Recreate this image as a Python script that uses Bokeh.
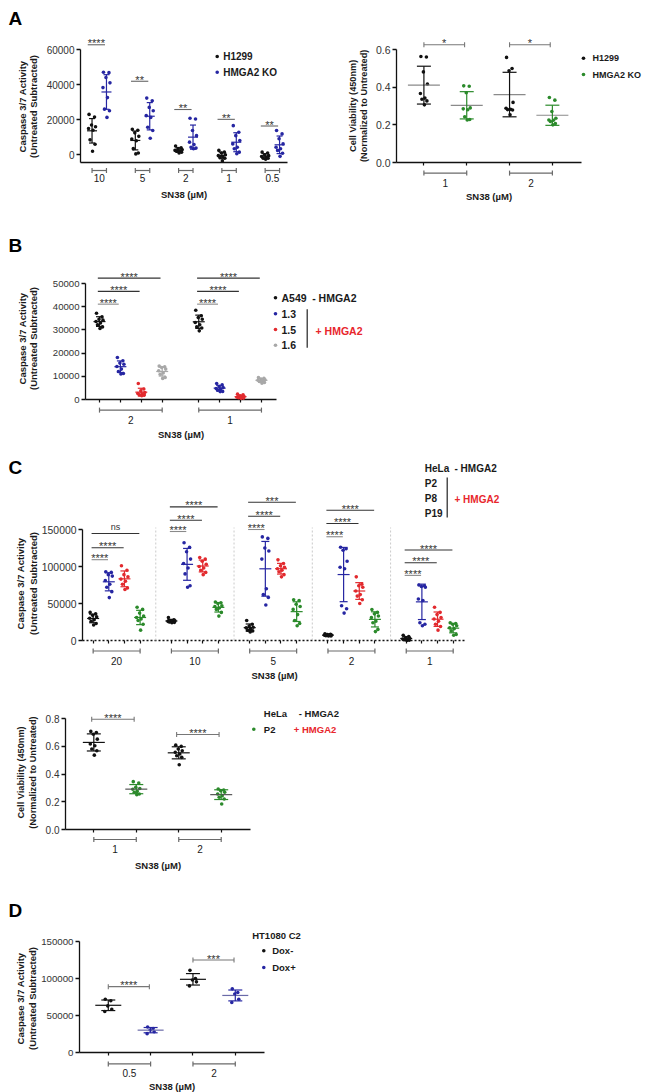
import math
import numpy as np
from bokeh.plotting import figure
from bokeh.models import Range1d, LinearAxis, FixedTicker, PrintfTickFormatter, Spacer
from bokeh.layouts import column, row
from bokeh.embed import file_html
from bokeh.resources import INLINE
from bokeh.core.properties import value

FONT = "Liberation Sans"
BLACK = "#111111"
BLUE = "#2626a2"
RED = "#e22a2e"
LGRAY = "#a8a8a8"
GREEN = "#2b8a2b"
TXT = "#1a1a1a"
LEG_RED = "#e8262c"

# ---------------- DATA ----------------
# Panel A (left) - Caspase 3/7, H1299 vs HMGA2 KO
a1_doses = ["10", "5", "2", "1", "0.5"]
a1_h1299 = [
    [23000, 21500, 17000, 16000, 15000, 14000, 8500, 6000, 2000],
    [14500, 14000, 12500, 10500, 9000, 8000, 3500, 1000, 500],
    [5000, 4000, 3500, 3000, 2500, 2000, 2000, 1500, 1000],
    [2500, 1500, 1000, 0, -500, -1000, -1500, -2000, -3500],
    [1500, 1000, 0, -500, -1000, -1500, -2000, -2000, -2500],
]
a1_ko = [
    [47000, 46800, 44000, 41000, 38300, 32600, 26000, 25100, 21300],
    [32300, 30800, 27000, 25100, 22300, 21300, 15700, 13800, 9400],
    [20800, 20400, 13800, 10900, 7200, 5900, 4300, 3800, 3400],
    [16600, 12800, 10900, 8100, 6200, 4300, 3400, 1500, 600],
    [13800, 11900, 9100, 6200, 4300, 3400, 2500, 900, -900],
]
a1_sig_y = [62700, 41900, 25800, 20200, 16400]
a1_sig = ["****", "**", "**", "**", "**"]
a1_yticks = [0, 20000, 40000, 60000]

# Panel A (right) - cell viability
a2_doses = ["1", "2"]
a2_h1299 = [
    [0.563, 0.560, 0.481, 0.416, 0.366, 0.342, 0.336, 0.327, 0.306],
    [0.558, 0.499, 0.487, 0.319, 0.288, 0.283, 0.281, 0.279, 0.253],
]
a2_ko = [
    [0.407, 0.405, 0.370, 0.290, 0.285, 0.280, 0.243, 0.228, 0.226],
    [0.345, 0.331, 0.271, 0.235, 0.226, 0.224, 0.218, 0.207, 0.200],
]
a2_sig_y = [0.625, 0.625]
a2_sig = ["*", "*"]
a2_yticks = [0, 0.2, 0.4, 0.6]

# Panel B - A549 clones
b_doses = ["2", "1"]
b_a549 = [
    [37200, 35600, 34600, 34200, 33600, 33000, 32200, 31300, 30600],
    [38500, 36100, 35300, 34600, 33200, 32200, 31300, 30800, 29600],
]
b_13 = [
    [18100, 16700, 15700, 15200, 14200, 13100, 12100, 11200, 11000],
    [6900, 6300, 5600, 5200, 4700, 4500, 4000, 3500, 3400],
]
b_15 = [
    [6900, 4500, 3700, 3000, 2600, 2300, 2000, 1900, 1600],
    [2300, 2000, 1600, 1300, 1000, 900, 800, 600, 500],
]
b_16 = [
    [14400, 14100, 13800, 13100, 12400, 11400, 10900, 9500, 9100],
    [9500, 9100, 8800, 8500, 8300, 8100, 7800, 7300, 7000],
]
b_sig_y = [[41100, 46600, 52300], [41100, 46600, 52300]]
b_sig = [["****", "****", "****"], ["****", "****", "****"]]
b_yticks = [0, 10000, 20000, 30000, 40000, 50000]

# Panel C (top) - HeLa clones
c_doses = ["20", "10", "5", "2", "1"]
c_hela = [
    [38000, 36000, 34000, 32000, 30000, 28000, 26000, 23000, 21000],
    [31000, 28000, 27000, 26500, 26000, 25500, 25000, 24500, 24000],
    [27000, 22000, 19500, 18000, 17000, 15000, 14000, 13000, 11500],
    [9000, 8500, 8000, 7500, 7000, 7000, 6500, 6000, 6000],
    [7000, 5500, 4000, 3000, 2000, 1500, 1000, 500, 0],
]
c_p2 = [
    [93000, 92000, 89000, 87000, 81000, 76000, 72000, 66000, 58000],
    [132000, 126000, 120000, 110000, 104000, 98000, 90000, 74000, 72000],
    [140000, 138000, 125000, 121000, 110000, 70000, 62000, 58000, 48000],
    [126000, 124000, 122000, 107000, 99000, 97000, 47000, 43000, 37000],
    [75000, 74000, 73000, 72000, 56000, 54000, 24000, 22000, 20000],
]
c_p8 = [
    [101000, 95000, 89000, 86000, 83000, 80000, 76000, 71000, 69000],
    [112000, 110000, 107000, 103000, 100000, 98000, 95000, 92000, 89000],
    [109000, 104000, 101000, 99000, 97000, 95000, 93000, 89000, 86000],
    [86000, 76000, 74000, 72000, 67000, 62000, 60000, 55000, 50000],
    [45000, 38000, 35000, 31000, 29000, 26000, 22000, 19000, 14000],
]
c_p19 = [
    [45000, 42000, 37000, 33000, 31000, 29000, 27000, 22000, 14000],
    [52000, 51000, 50000, 47000, 46000, 44000, 42000, 38000, 33000],
    [55000, 54000, 49000, 46000, 42000, 35000, 27000, 23000, 20000],
    [42000, 38000, 36000, 33000, 31000, 26000, 24000, 15000, 12000],
    [24000, 23000, 22000, 20000, 17000, 16000, 13000, 8000, 7000],
]
c_sig_y = [
    [109200, 125300, 144600],
    [147300, 162600, 180600],
    [150000, 168000, 186900],
    [140200, 158100, 176100],
    [88000, 105100, 122200],
]
c_sig = [
    ["****", "****", "ns"],
    ["****", "****", "****"],
    ["****", "****", "***"],
    ["****", "****", "****"],
    ["****", "****", "****"],
]
c_yticks = [0, 50000, 100000, 150000]

# Panel C (bottom) - viability HeLa vs P2
c2_doses = ["1", "2"]
c2_hela = [
    [0.707, 0.699, 0.687, 0.651, 0.616, 0.604, 0.580, 0.568, 0.536],
    [0.608, 0.599, 0.580, 0.568, 0.556, 0.544, 0.532, 0.520, 0.467],
]
c2_p2 = [
    [0.345, 0.335, 0.304, 0.295, 0.290, 0.275, 0.268, 0.256, 0.250],
    [0.292, 0.285, 0.280, 0.268, 0.256, 0.244, 0.232, 0.220, 0.184],
]
c2_sig_y = [0.795, 0.685]
c2_sig = ["****", "****"]
c2_yticks = [0, 0.2, 0.4, 0.6, 0.8]

# Panel D - HT1080 C2 Dox-/Dox+
d_doses = ["0.5", "2"]
d_dox_minus = [
    [72000, 70000, 63000, 58500, 55500],
    [111000, 100000, 98000, 95500, 90000],
]
d_dox_plus = [
    [34500, 32500, 30500, 28000, 25500],
    [86000, 81000, 79000, 72000, 67500],
]
d_sig_y = [89000, 124900]
d_sig = ["****", "***"]
d_yticks = [0, 50000, 100000, 150000]

CASP = ["Caspase 3/7 Activity", "(Untreated Subtracted)"]
VIAB = ["Cell Viability (450nm)", "(Normalized to Untreated)"]
XT = "SN38 (\u00b5M)"

# jitter pattern (pixels) used to spread points within a column
JIT = [-3.0, 2.5, -0.5, 3.5, -3.5, 1.0, -2.0, 3.0, 0.5]
DOT = 3.6


class Panel:
    def __init__(self, fw, fh, L, R, T, B, xr, yr, yticks, yfmt, ytitle, tpos, series_x, centers, labels,
                 ytick_fs="10px", ytitle_fs="9.5px", lab_sd=12, title_sd=2, xdash="solid"):
        self.L, self.R, self.T, self.B = L, R, T, B
        self.W, self.H = L + fw + R, T + fh + B
        self.xs, self.xe = xr
        self.ys, self.ye = yr
        self.sx = fw / (self.xe - self.xs)
        self.sy = fh / (self.ye - self.ys)
        p = figure(frame_width=fw, frame_height=fh, x_range=Range1d(*xr), y_range=Range1d(*yr),
                   x_axis_type=None, y_axis_type=None, output_backend="svg", toolbar_location=None,
                   min_border_left=L, min_border_right=R, min_border_top=T, min_border_bottom=B,
                   outline_line_color=None, background_fill_color="white", border_fill_color="white")
        self.p = p
        ya = LinearAxis(ticker=FixedTicker(ticks=yticks), formatter=PrintfTickFormatter(format=yfmt),
                        major_label_text_font=FONT, major_label_text_font_size=ytick_fs,
                        major_label_text_color="#333333", major_label_standoff=2,
                        major_tick_out=4, major_tick_in=0, minor_tick_line_color=None,
                        axis_line_color=BLACK, axis_line_width=1.3,
                        major_tick_line_color=BLACK, major_tick_line_width=1.3)
        p.add_layout(ya, "left")
        xa = LinearAxis(ticker=FixedTicker(ticks=series_x),
                        major_label_overrides={float(s): "" for s in series_x},
                        major_label_text_font_size="0px", major_label_standoff=0,
                        major_tick_out=3, major_tick_in=0, minor_tick_line_color=None,
                        axis_line_color=BLACK, axis_line_width=1.3, axis_line_dash=xdash,
                        major_tick_line_color=BLACK, major_tick_line_width=1.2)
        p.add_layout(xa, "below")
        xa2 = LinearAxis(ticker=FixedTicker(ticks=centers),
                         major_label_overrides={float(c): l for c, l in zip(centers, labels)},
                         axis_line_color=None, major_tick_line_color=None, minor_tick_line_color=None,
                         major_tick_out=0, major_tick_in=0, major_label_standoff=lab_sd,
                         major_label_text_font=FONT, major_label_text_font_size="10px",
                         major_label_text_color=TXT,
                         axis_label=XT, axis_label_standoff=title_sd, axis_label_text_font=FONT,
                         axis_label_text_font_style="bold", axis_label_text_font_size="9.5px",
                         axis_label_text_color=TXT)
        p.add_layout(xa2, "below")
        # y-axis title (two lines, rotated)
        (tx1, tx2), ty = tpos
        for line, tx in zip(ytitle, (tx1, tx2)):
            p.text([self.X(tx)], [self.Y(ty)], text=[line], angle=math.pi / 2,
                   text_font=value(FONT), text_font_size=ytitle_fs, text_font_style="bold",
                   text_align="center", text_baseline="middle", text_color=TXT, level="overlay")

    def X(self, cx):
        return self.xs + (cx - self.L) / self.sx

    def Y(self, cy):
        return self.ys + (self.H - self.B - cy) / self.sy


def draw_series(P, xc, vals, color, mean_hw, cap_hw, mean_color=None, lw=1.2):
    vals = np.asarray(vals, dtype=float)
    order = np.argsort(-vals, kind="stable")
    xs = np.empty(len(vals))
    for rank, idx in enumerate(order):
        xs[idx] = xc + JIT[rank % len(JIT)] / P.sx
    P.p.scatter(xs, vals, size=DOT, fill_color=color, line_color=None, level="overlay")
    m = vals.mean()
    s = vals.std(ddof=1)
    mc = mean_color or color
    P.p.segment([xc - mean_hw / P.sx], [m], [xc + mean_hw / P.sx], [m],
                line_color=mc, line_width=lw, level="overlay")
    c = cap_hw / P.sx
    P.p.segment([xc, xc - c, xc - c], [m - s, m + s, m - s], [xc, xc + c, xc + c], [m + s, m + s, m - s],
                line_color=color, line_width=lw, level="overlay")


def sig_bar(P, xa, xb, y, txt, color, caps=False, fs="11px"):
    P.p.segment([xa], [y], [xb], [y], line_color=color, line_width=1.1, level="overlay")
    if caps:
        d = 2.5 / P.sy
        P.p.segment([xa, xb], [y - d, y - d], [xa, xb], [y + d, y + d],
                    line_color=color, line_width=1.1, level="overlay")
    if txt == "ns":
        ty = y + 6.0 / P.sy
        f = "9px"
    else:
        ty = y + 1.5 / P.sy
        f = fs
    P.p.text([(xa + xb) / 2], [ty], text=[txt], text_font=value(FONT), text_font_size=f,
             text_align="center", text_baseline="middle", text_color="#333333", level="overlay")


def bracket(P, xa, xb, off_px, color="#6a6a6a"):
    y = P.ys - off_px / P.sy
    d = 2.5 / P.sy
    P.p.segment([xa, xa, xb], [y, y - d, y - d], [xb, xa, xb], [y, y + d, y + d],
                line_color=color, line_width=1.2, level="overlay")


def ptext(P, cx, cy, txt, fs, color=TXT, bold=True, align="left", baseline="middle"):
    P.p.text([P.X(cx)], [P.Y(cy)], text=[txt], text_font=value(FONT), text_font_size=fs,
             text_font_style="bold" if bold else "normal", text_align=align,
             text_baseline=baseline, text_color=color, level="overlay")


def dot(P, cx, cy, color):
    P.p.scatter([P.X(cx)], [P.Y(cy)], size=DOT, fill_color=color, line_color=None, level="overlay")


def vbar(P, cx, cy0, cy1):
    P.p.segment([P.X(cx)], [P.Y(cy0)], [P.X(cx)], [P.Y(cy1)], line_color="#222222",
                line_width=1.2, level="overlay")


def letter(P, cy, txt):
    ptext(P, 0, cy, txt, "19px", color="#000000", baseline="alphabetic")


# ---------------- Panel A left ----------------
A1 = Panel(207, 113, 72, 33, 41, 43, (-0.8, 13.55), (-4400, 60000), a1_yticks, "%d", CASP,
           ((13.7, 25.3), 98), series_x=[], centers=[g * 3 + 0.5 for g in range(5)], labels=a1_doses,
           lab_sd=11, title_sd=4)
for g in range(5):
    draw_series(A1, g * 3, a1_h1299[g], BLACK, 5, 3)
    draw_series(A1, g * 3 + 1, a1_ko[g], BLUE, 5, 3)
    sig_bar(A1, g * 3 - 0.3, g * 3 + 0.9, a1_sig_y[g], a1_sig[g], "#666666")
    bracket(A1, g * 3, g * 3 + 1, 8)
letter(A1, 10, "A")
dot(A1, 208.7, 48, BLACK)
ptext(A1, 214.7, 48, "H1299", "10px")
dot(A1, 208.7, 63.7, BLUE)
ptext(A1, 214.7, 63.7, "HMGA2 KO", "10px")

# ---------------- Panel A right ----------------
A2 = Panel(185, 113, 76, 61, 41, 43, (-0.64, 3.68), (0, 0.6), a2_yticks, "%.1f", VIAB,
           ((32.3, 43.3), 97.3), series_x=[0, 1, 2, 3], centers=[0.5, 2.5], labels=a2_doses,
           ytick_fs="10.5px", ytitle_fs="9.2px", lab_sd=13, title_sd=1)
for g in range(2):
    draw_series(A2, g * 2, a2_h1299[g], BLACK, 16, 7, mean_color="#8a8a8a")
    draw_series(A2, g * 2 + 1, a2_ko[g], GREEN, 16, 7, mean_color="#8a8a8a")
    sig_bar(A2, g * 2, g * 2 + 0.95, a2_sig_y[g], a2_sig[g], "#777777", caps=True)
    bracket(A2, g * 2, g * 2 + 1, 10.6)
dot(A2, 263, 49.7, BLACK)
ptext(A2, 272, 49.7, "H1299", "9px")
dot(A2, 263, 66, GREEN)
ptext(A2, 272, 66, "HMGA2 KO", "9px")

# ---------------- Panel B ----------------
b_series = [b_a549, b_13, b_15, b_16]
b_colors = [BLACK, BLUE, RED, LGRAY]
B_ = Panel(191, 116, 77, 92, 78, 41, (-0.67, 8.47), (0, 50000), b_yticks, "%d", CASP,
           ((13.7, 25.3), 133), series_x=[g * 4.75 + j for g in range(2) for j in range(4)],
           centers=[g * 4.75 + 1.5 for g in range(2)], labels=b_doses,
           ytick_fs="9.6px", lab_sd=13, title_sd=2)
for g in range(2):
    for j in range(4):
        draw_series(B_, g * 4.75 + j, b_series[j][g], b_colors[j], 6, 3.5)
    for k in range(3):
        sig_bar(B_, g * 4.75 - 0.08, g * 4.75 + k + 1 - 0.08, b_sig_y[g][k], b_sig[g][k],
                "#8a8a8a" if k == 0 else "#333333")
    bracket(B_, g * 4.75, g * 4.75 + 3, 10.6)
letter(B_, 40, "B")
for lab, col, cy in [("A549", BLACK, 92.3), ("1.3", BLUE, 108.3), ("1.5", RED, 124), ("1.6", LGRAY, 139.7)]:
    dot(B_, 267, cy, col)
    ptext(B_, 273, cy, lab, "10.5px")
ptext(B_, 303.7, 92.3, "- HMGA2", "10.5px")
vbar(B_, 298.7, 103.7, 142.3)
ptext(B_, 307, 125, "+ HMGA2", "10.5px", color=LEG_RED)

# ---------------- Panel C top ----------------
c_series = [c_hela, c_p2, c_p8, c_p19]
c_colors = [BLACK, BLUE, RED, GREEN]
C1 = Panel(384, 111, 74, 42, 87, 52, (-0.68, 23.85), (0, 150000), c_yticks, "%d", CASP,
           ((12, 24.7), 141), series_x=[g * 5 + j for g in range(5) for j in range(4)],
           centers=[g * 5 + 1.5 for g in range(5)], labels=c_doses,
           ytick_fs="10.4px", lab_sd=13, title_sd=2, xdash="2 2")
for g in range(4):
    xsep = g * 5 + 4
    C1.p.segment([xsep], [0], [xsep], [C1.Y(85)], line_color="#c4c4c4", line_width=0.9,
                 line_dash="2 2", level="overlay")
for g in range(5):
    for j in range(4):
        draw_series(C1, g * 5 + j, c_series[j][g], c_colors[j], 6, 4)
    for k in range(3):
        sig_bar(C1, g * 5 - 0.1, g * 5 + k + 1 - 0.05, c_sig_y[g][k], c_sig[g][k],
                "#8a8a8a" if k == 0 else "#333333")
    bracket(C1, g * 5, g * 5 + 3, 10.5)
letter(C1, 25, "C")
for lab, col, cy in [("HeLa", BLACK, 25.7), ("P2", BLUE, 41), ("P8", RED, 56), ("P19", GREEN, 71)]:
    dot(C1, 408, cy, col)
    ptext(C1, 416.3, cy, lab, "10px")
ptext(C1, 446, 25.7, "- HMGA2", "10px")
vbar(C1, 438.7, 35, 75)
ptext(C1, 446, 56.7, "+ HMGA2", "10px", color=LEG_RED)

# ---------------- Panel C bottom ----------------
C2 = Panel(185, 111, 57, 103, 26, 48, (-0.667, 3.69), (0, 0.8), c2_yticks, "%.1f", VIAB,
           ((12, 24.3), 80), series_x=[0, 1, 2, 3], centers=[0.5, 2.5], labels=c2_doses,
           ytick_fs="10px", ytitle_fs="9.2px", lab_sd=12, title_sd=4)
for g in range(2):
    draw_series(C2, g * 2, c2_hela[g], BLACK, 11, 7)
    draw_series(C2, g * 2 + 1, c2_p2[g], GREEN, 11, 7, mean_color="#555555")
    sig_bar(C2, g * 2 - 0.05, g * 2 + 1 - 0.05, c2_sig_y[g], c2_sig[g], "#777777", caps=True)
    bracket(C2, g * 2, g * 2 + 1, 10)
dot(C2, 245.3, 20.7, BLACK)
ptext(C2, 255.3, 20.7, "HeLa", "9.5px")
ptext(C2, 290.3, 20.7, "- HMGA2", "9.5px")
dot(C2, 245.3, 36.7, GREEN)
ptext(C2, 255.3, 36.7, "P2", "9.5px")
ptext(C2, 285.3, 36.7, "+ HMGA2", "9.5px", color=LEG_RED)

# ---------------- Panel D ----------------
D_ = Panel(185, 111, 71, 64, 64, 42, (-0.68, 3.69), (0, 150000), d_yticks, "%d", CASP,
           ((12, 24.3), 121), series_x=[0, 1, 2, 3], centers=[0.5, 2.5], labels=d_doses,
           ytick_fs="9.7px", lab_sd=13, title_sd=1)
for g in range(2):
    draw_series(D_, g * 2, d_dox_minus[g], BLACK, 13, 7)
    draw_series(D_, g * 2 + 1, d_dox_plus[g], BLUE, 13, 7, mean_color="#6a6aa8")
    sig_bar(D_, g * 2, g * 2 + 0.97, d_sig_y[g], d_sig[g], "#777777", caps=True)
    bracket(D_, g * 2, g * 2 + 1, 11.4)
letter(D_, 33, "D")
ptext(D_, 243.7, 57.7, "HT1080 C2", "9.5px")
dot(D_, 255.3, 73.3, BLACK)
ptext(D_, 263.7, 73.3, "Dox-", "9.5px")
dot(D_, 255.3, 90, BLUE)
ptext(D_, 263.7, 90, "Dox+", "9.5px")

# each figure sits in its own row so that the column does not align their frames
content = column(row(A1.p, A2.p), row(B_.p), row(C1.p), row(C2.p), row(D_.p))
layout = column(Spacer(width=8, height=8), row(Spacer(width=8, height=8), content))
open("out.html", "w").write(file_html(layout, INLINE))
